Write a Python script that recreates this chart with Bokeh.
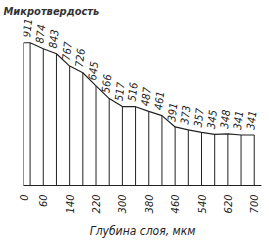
import math
from bokeh.plotting import figure
from bokeh.models import ColumnDataSource, Range1d, FixedTicker
from bokeh.core.properties import value
from bokeh.embed import file_html
from bokeh.resources import INLINE

# ---- data ----
depth = [0, 20, 60, 100, 140, 180, 220, 260, 300, 340, 380, 420, 460, 500, 540, 580, 620, 660, 700]
hardness = [911, 911, 874, 843, 767, 726, 645, 566, 517, 516, 487, 461, 391, 373, 357, 345, 348, 341, 341]
label_depth = depth[1:]
label_vals = hardness[1:]
tick_vals = [0, 60, 140, 220, 300, 380, 460, 540, 620, 700]
title_text = "Микротвердость"
xlabel_text = "Глубина слоя, мкм"

FONT = "Liberation Sans Narrow, DejaVu Sans Condensed, DejaVu Sans, sans-serif"
Y0 = 29

p = figure(width=269, height=241, output_backend="svg", toolbar_location=None,
           x_range=Range1d(0, 722), y_range=Range1d(Y0, 1061),
           min_border_left=23, min_border_right=8, min_border_top=18, min_border_bottom=51)
p.outline_line_color = None
p.grid.visible = False
p.yaxis.visible = False
p.background_fill_color = "white"
p.border_fill_color = "white"

# title
p.title.text = title_text
p.title.align = "left"
p.title.offset = -20
p.title.text_font = FONT
p.title.text_font_style = "bold italic"
p.title.text_font_size = "11px"
p.title.text_color = "#333333"
p.title.standoff = 2

# x axis
ax = p.xaxis[0]
ax.ticker = FixedTicker(ticks=tick_vals)
ax.major_label_orientation = math.pi / 2
ax.major_label_text_font = FONT
ax.major_label_text_font_style = "italic"
ax.major_label_text_font_size = "11px"
ax.major_label_text_color = "#222222"
ax.major_tick_line_color = None
ax.minor_tick_line_color = None
ax.major_label_standoff = 3
ax.axis_line_color = "#222222"
ax.axis_line_width = 1.2
ax.axis_label = xlabel_text
ax.axis_label_text_font = FONT
ax.axis_label_text_font_style = "italic"
ax.axis_label_text_font_size = "12px"
ax.axis_label_text_color = "#222222"
ax.axis_label_standoff = 8

src = ColumnDataSource(dict(x=depth, y=hardness, y0=[Y0] * len(depth)))
p.segment(x0="x", y0="y0", x1="x", y1="y", source=src, line_color="#222222", line_width=1)
p.line("x", "y", source=src, line_color="#222222", line_width=1.2)

lsrc = ColumnDataSource(dict(x=label_depth, y=label_vals, t=[str(v) for v in label_vals]))
p.text("x", "y", text="t", source=lsrc, angle=math.pi / 2 - 0.12,
       text_font=value(FONT), text_font_style="italic", text_font_size="11px",
       text_align="left", text_baseline="bottom", y_offset=-5, x_offset=0,
       text_color="#222222")

open("out.html", "w").write(file_html(p, INLINE))
